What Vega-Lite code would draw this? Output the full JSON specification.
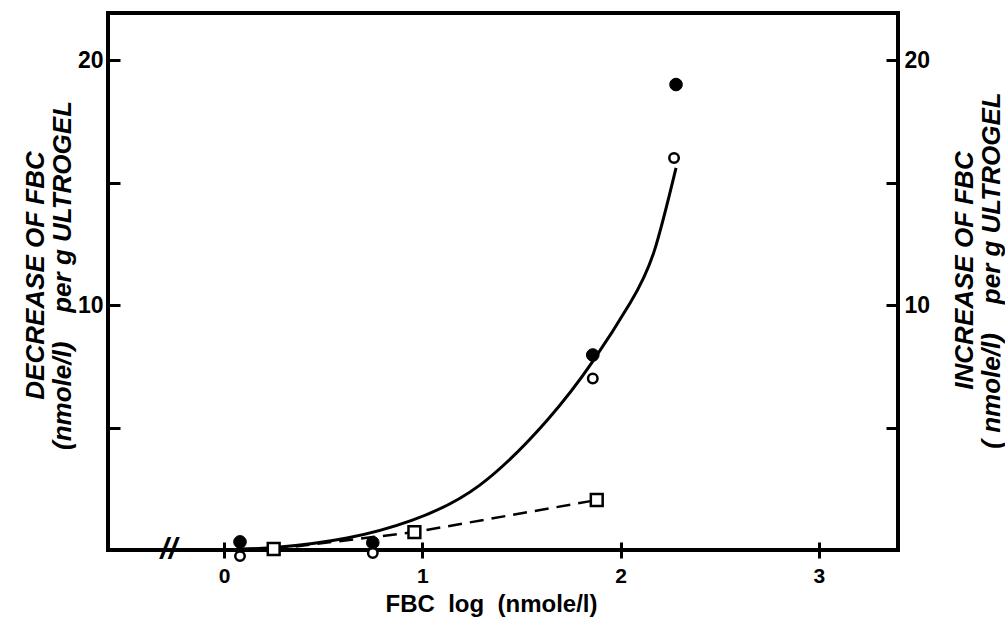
{
  "$schema": "https://vega.github.io/schema/vega-lite/v6.json",
  "width": 790,
  "height": 537,
  "autosize": {"type": "none"},
  "padding": {"left": 108, "top": 13, "right": 107, "bottom": 68},
  "background": "white",
  "config": {
    "view": {"stroke": "black", "strokeWidth": 4},
    "font": "Liberation Sans"
  },
  "datasets": {
    "curve": [
      {"x": 0.08, "y": 0.04},
      {"x": 0.28, "y": 0.12},
      {"x": 0.62, "y": 0.49},
      {"x": 0.95, "y": 1.22},
      {"x": 1.29, "y": 2.65},
      {"x": 1.63, "y": 5.3},
      {"x": 1.86, "y": 7.7},
      {"x": 2.05, "y": 10.1},
      {"x": 2.17, "y": 12.2},
      {"x": 2.28, "y": 15.6}
    ],
    "dash": [
      {"x": 0.25, "y": 0.04},
      {"x": 0.96, "y": 0.73},
      {"x": 1.88, "y": 2.04}
    ],
    "points": [
      {"s": "filled", "x": 0.08, "y": 0.33},
      {"s": "filled", "x": 0.75, "y": 0.3},
      {"s": "filled", "x": 1.86, "y": 7.96},
      {"s": "filled", "x": 2.28, "y": 19.0},
      {"s": "open", "x": 0.08, "y": -0.25},
      {"s": "open", "x": 0.75, "y": -0.12},
      {"s": "open", "x": 1.86, "y": 7.0},
      {"s": "open", "x": 2.27, "y": 16.0},
      {"s": "square", "x": 0.25, "y": 0.04},
      {"s": "square", "x": 0.96, "y": 0.73},
      {"s": "square", "x": 1.88, "y": 2.04}
    ],
    "brk": [{"label": "//", "x": -0.28, "y": 0}]
  },
  "resolve": {"scale": {"y": "independent"}, "axis": {"y": "independent"}},
  "layer": [
    {
      "data": {"name": "curve"},
      "mark": {"type": "line", "interpolate": "natural", "color": "black", "strokeWidth": 3},
      "encoding": {
        "x": {"field": "x", "type": "quantitative", "scale": {"domain": [-0.586, 3.4], "nice": false, "zero": false},
          "axis": {"values": [0, 1, 2, 3], "offset": -8, "tickSize": 16, "tickWidth": 3, "tickColor": "black", "domain": false, "grid": false,
            "labelFontSize": 21, "labelFontWeight": "bold", "labelColor": "black", "labelPadding": 7, "labelFlush": false,
            "title": "FBC\u00a0\u00a0log\u00a0\u00a0(nmole/l)", "titleFontSize": 24, "titleFontWeight": "bold", "titleColor": "black",
            "titleX": 383, "titleY": 69, "titleBaseline": "alphabetic", "titleAlign": "center"}},
        "y": {"field": "y", "type": "quantitative", "scale": {"domain": [0, 21.92], "nice": false, "zero": false},
          "axis": {"orient": "left", "values": [5, 10, 15, 20], "tickSize": -12, "tickWidth": 3, "tickColor": "black", "domain": false, "grid": false,
            "labelExpr": "datum.value % 10 === 0 ? datum.label : ''", "labelFontSize": 23, "labelFontWeight": "bold", "labelColor": "black", "labelPadding": 17,
            "title": ["DECREASE OF FBC", "(nmole/l)\u00a0\u00a0\u00a0\u00a0per g ULTROGEL"], "titleFontSize": 26, "titleFontWeight": "bold", "titleFontStyle": "italic",
            "titleColor": "black", "titleAngle": 270, "titleX": -73, "titleY": 262, "titleAlign": "center", "titleBaseline": "middle", "titleLineHeight": 27}}
      }
    },
    {
      "data": {"name": "dash"},
      "mark": {"type": "line", "color": "black", "strokeWidth": 2.5, "strokeDash": [14, 8]},
      "encoding": {
        "x": {"field": "x", "type": "quantitative", "scale": {"domain": [-0.586, 3.4], "nice": false, "zero": false},
          "axis": {"values": [0, 1, 2, 3], "offset": -8, "tickSize": 16, "tickWidth": 3, "tickColor": "black", "domain": false, "grid": false,
            "labelFontSize": 21, "labelFontWeight": "bold", "labelColor": "black", "labelPadding": 7, "labelFlush": false,
            "title": "FBC\u00a0\u00a0log\u00a0\u00a0(nmole/l)", "titleFontSize": 24, "titleFontWeight": "bold", "titleColor": "black",
            "titleX": 383, "titleY": 69, "titleBaseline": "alphabetic", "titleAlign": "center"}},
        "y": {"field": "y", "type": "quantitative", "scale": {"domain": [0, 21.92], "nice": false, "zero": false},
          "axis": {"orient": "right", "values": [5, 10, 15, 20], "tickSize": -12, "tickWidth": 3, "tickColor": "black", "domain": false, "grid": false,
            "labelExpr": "datum.value % 10 === 0 ? datum.label : ''", "labelFontSize": 23, "labelFontWeight": "bold", "labelColor": "black", "labelPadding": 18,
            "title": ["INCREASE OF FBC", "(\u00a0nmole/l)\u00a0\u00a0\u00a0\u00a0per g ULTROGEL"], "titleFontSize": 26, "titleFontWeight": "bold", "titleFontStyle": "italic",
            "titleColor": "black", "titleAngle": 270, "titleX": 66, "titleY": 257, "titleAlign": "center", "titleBaseline": "middle", "titleLineHeight": 27}}
      }
    },
    {
      "data": {"name": "points"},
      "transform": [{"filter": "datum.s === 'filled'"}],
      "mark": {"type": "point", "shape": "circle", "filled": true, "fill": "black", "stroke": "black", "strokeWidth": 1, "size": 160, "opacity": 1},
      "encoding": {
        "x": {"field": "x", "type": "quantitative", "scale": {"domain": [-0.586, 3.4], "nice": false, "zero": false},
          "axis": {"values": [0, 1, 2, 3], "offset": -8, "tickSize": 16, "tickWidth": 3, "tickColor": "black", "domain": false, "grid": false,
            "labelFontSize": 21, "labelFontWeight": "bold", "labelColor": "black", "labelPadding": 7, "labelFlush": false,
            "title": "FBC\u00a0\u00a0log\u00a0\u00a0(nmole/l)", "titleFontSize": 24, "titleFontWeight": "bold", "titleColor": "black",
            "titleX": 383, "titleY": 69, "titleBaseline": "alphabetic", "titleAlign": "center"}},
        "y": {"field": "y", "type": "quantitative", "scale": {"domain": [0, 21.92], "nice": false, "zero": false}, "axis": null}
      }
    },
    {
      "data": {"name": "points"},
      "transform": [{"filter": "datum.s === 'open'"}],
      "mark": {"type": "point", "shape": "circle", "filled": true, "fill": "white", "stroke": "black", "strokeWidth": 2.5, "size": 90, "opacity": 1},
      "encoding": {
        "x": {"field": "x", "type": "quantitative", "scale": {"domain": [-0.586, 3.4], "nice": false, "zero": false},
          "axis": {"values": [0, 1, 2, 3], "offset": -8, "tickSize": 16, "tickWidth": 3, "tickColor": "black", "domain": false, "grid": false,
            "labelFontSize": 21, "labelFontWeight": "bold", "labelColor": "black", "labelPadding": 7, "labelFlush": false,
            "title": "FBC\u00a0\u00a0log\u00a0\u00a0(nmole/l)", "titleFontSize": 24, "titleFontWeight": "bold", "titleColor": "black",
            "titleX": 383, "titleY": 69, "titleBaseline": "alphabetic", "titleAlign": "center"}},
        "y": {"field": "y", "type": "quantitative", "scale": {"domain": [0, 21.92], "nice": false, "zero": false}, "axis": null}
      }
    },
    {
      "data": {"name": "points"},
      "transform": [{"filter": "datum.s === 'square'"}],
      "mark": {"type": "point", "shape": "square", "filled": true, "fill": "white", "stroke": "black", "strokeWidth": 2.5, "size": 140, "opacity": 1},
      "encoding": {
        "x": {"field": "x", "type": "quantitative", "scale": {"domain": [-0.586, 3.4], "nice": false, "zero": false},
          "axis": {"values": [0, 1, 2, 3], "offset": -8, "tickSize": 16, "tickWidth": 3, "tickColor": "black", "domain": false, "grid": false,
            "labelFontSize": 21, "labelFontWeight": "bold", "labelColor": "black", "labelPadding": 7, "labelFlush": false,
            "title": "FBC\u00a0\u00a0log\u00a0\u00a0(nmole/l)", "titleFontSize": 24, "titleFontWeight": "bold", "titleColor": "black",
            "titleX": 383, "titleY": 69, "titleBaseline": "alphabetic", "titleAlign": "center"}},
        "y": {"field": "y", "type": "quantitative", "scale": {"domain": [0, 21.92], "nice": false, "zero": false}, "axis": null}
      }
    },
    {
      "data": {"name": "brk"},
      "mark": {"type": "text", "fontSize": 30, "fontWeight": "bold", "fontStyle": "italic", "color": "black", "align": "center", "baseline": "middle"},
      "encoding": {
        "x": {"field": "x", "type": "quantitative", "scale": {"domain": [-0.586, 3.4], "nice": false, "zero": false},
          "axis": {"values": [0, 1, 2, 3], "offset": -8, "tickSize": 16, "tickWidth": 3, "tickColor": "black", "domain": false, "grid": false,
            "labelFontSize": 21, "labelFontWeight": "bold", "labelColor": "black", "labelPadding": 7, "labelFlush": false,
            "title": "FBC\u00a0\u00a0log\u00a0\u00a0(nmole/l)", "titleFontSize": 24, "titleFontWeight": "bold", "titleColor": "black",
            "titleX": 383, "titleY": 69, "titleBaseline": "alphabetic", "titleAlign": "center"}},
        "y": {"field": "y", "type": "quantitative", "scale": {"domain": [0, 21.92], "nice": false, "zero": false}, "axis": null},
        "text": {"field": "label", "type": "nominal"}
      }
    }
  ]
}
